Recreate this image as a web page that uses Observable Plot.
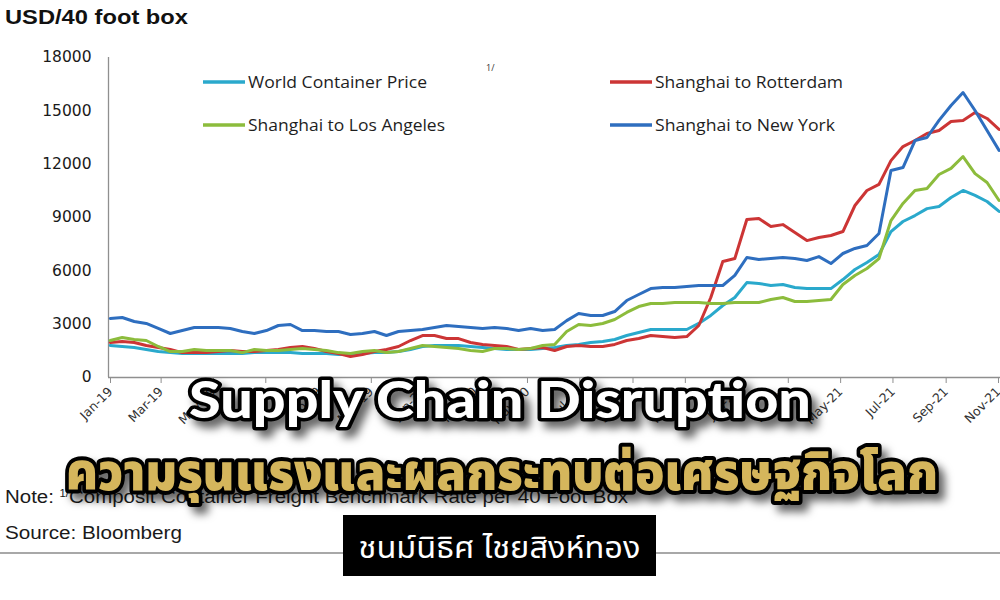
<!DOCTYPE html>
<html><head><meta charset="utf-8">
<script src="https://cdn.jsdelivr.net/npm/d3@7"></script>
<script src="https://cdn.jsdelivr.net/npm/@observablehq/plot@0.6"></script>
<style>
html,body{margin:0;padding:0;background:#fff;}
#wrap{position:relative;width:1000px;height:600px;overflow:hidden;background:#fff;}
#chart{position:absolute;left:0;top:0;}
#over{position:absolute;left:0;top:0;}
.thai{font-family:"Noto Sans Thai","Noto Sans Thai Looped","Loma","Garuda","Kinnari","Tlwg Typist","Noto Sans",sans-serif;}
</style></head><body>
<div id="wrap"><div id="chart"></div><svg id="over" width="1000" height="600" xmlns="http://www.w3.org/2000/svg"></svg></div>
<script>
// ---- data (biweekly observations from 2019-01-03), USD per 40 ft box ----
const seriesNames = ["World Container Price", "Shanghai to Rotterdam", "Shanghai to Los Angeles", "Shanghai to New York"];
const seriesColors = ["#2aa9cc", "#cc3535", "#8cbc3c", "#2e6ebf"];
const firstObs = "2019-01-03";
const stepDays = 14;
const world = [1800,1745,1690,1575,1460,1400,1350,1350,1350,1350,
 1350,1350,1400,1400,1400,1400,1350,1350,1350,1290,
 1290,1350,1400,1400,1460,1575,1745,1800,1800,1800,
 1745,1690,1630,1575,1575,1575,1630,1690,1800,1860,
 1970,2025,2140,2360,2530,2700,2700,2700,2700,3040,
 3490,4050,4500,5340,5290,5175,5230,5060,5000,5000,
 5000,5510,6075,6470,6920,8210,8775,9110,9500,9620,
 10125,10520,10240,9900,9340];
const rotterdam = [1970,2025,1970,1800,1690,1575,1400,1400,1400,1460,
 1520,1460,1460,1520,1575,1690,1745,1630,1460,1350,
 1180,1290,1460,1575,1745,2080,2360,2360,2190,2190,
 1970,1860,1800,1745,1575,1630,1690,1520,1745,1800,
 1745,1745,1860,2080,2190,2360,2300,2250,2300,2925,
 4500,6525,6690,8890,8940,8490,8600,8160,7700,7875,
 7990,8210,9675,10520,10860,12200,12990,13330,13725,13890,
 14400,14460,14900,14570,13950];
const losAngeles = [2080,2250,2140,2080,1745,1460,1460,1575,1520,1520,
 1520,1400,1575,1520,1520,1575,1630,1575,1520,1400,
 1350,1460,1520,1400,1460,1630,1800,1745,1690,1630,
 1520,1460,1630,1630,1575,1630,1800,1860,2590,2980,
 2925,3040,3260,3660,3990,4160,4160,4220,4220,4220,
 4160,4160,4220,4220,4220,4390,4500,4275,4275,4330,
 4390,5230,5740,6130,6690,8830,9790,10520,10630,11420,
 11760,12430,11470,10970,9960];
const newYork = [3320,3375,3150,3040,2760,2475,2640,2810,2810,2810,
 2760,2590,2475,2640,2925,2980,2640,2640,2590,2590,
 2420,2475,2590,2360,2590,2640,2700,2810,2925,2870,
 2810,2760,2810,2760,2640,2760,2640,2700,3200,3600,
 3490,3490,3710,4330,4670,5000,5060,5060,5120,5175,
 5175,5175,5740,6750,6640,6690,6750,6690,6580,6800,
 6410,6975,7260,7425,8100,11640,11810,13330,13500,14460,
 15300,16030,15020,13890,12770];
const yTicks = [0, 3000, 6000, 9000, 12000, 15000, 18000];
const xStart = "2019-01-01", xEnd = "2021-11-05T16:00:00Z";

const seriesValues = [world, rotterdam, losAngeles, newYork];
const dates = world.map((_, i) => d3.utcDay.offset(new Date(firstObs), stepDays * i));
const rows = [];
seriesNames.forEach((name, k) => seriesValues[k].forEach((v, i) => rows.push({date: dates[i], value: v, series: name})));
const xDomain = [new Date(xStart), new Date(xEnd)];
const xTicks = d3.utcMonth.every(2).range(xDomain[0], xDomain[1]);

const chart = Plot.plot({
  width: 1000, height: 440,
  marginTop: 57, marginBottom: 63, marginLeft: 108, marginRight: 0,
  style: {fontFamily: "'DejaVu Sans', sans-serif", background: "transparent", overflow: "visible"},
  x: {type: "utc", domain: xDomain},
  y: {domain: [0, 18000]},
  color: {domain: seriesNames, range: seriesColors},
  marks: [
    Plot.ruleY([0], {stroke: "#8f8f8f", strokeWidth: 1.3}),
    Plot.ruleX([xDomain[0]], {y1: 0, y2: 18000, stroke: "#8f8f8f", strokeWidth: 1.3}),
    Plot.axisY({ticks: yTicks, tickSize: 0, tickPadding: 17, tickFormat: d3.format("d"), fontSize: 15.5, fill: "#1a1a1a", label: null}),
    Plot.axisX({ticks: xTicks, tickSize: 5, stroke: "#8f8f8f", tickFormat: d3.utcFormat("%b-%y"), tickRotate: -45, fontSize: 12.5, fill: "#333", label: null, tickPadding: 6, dx: 2, dy: 1}),
    Plot.lineY(rows, {x: "date", y: "value", z: "series", stroke: "series", strokeWidth: 3})
  ]
});
document.getElementById("chart").appendChild(chart);

// ---- overlay texts ----
const NS = "http://www.w3.org/2000/svg";
const over = document.getElementById("over");
function el(tag, attrs, text, parent = over) {
  const e = document.createElementNS(NS, tag);
  for (const k in attrs) e.setAttribute(k, attrs[k]);
  if (text != null) e.textContent = text;
  parent.appendChild(e);
  return e;
}
const defs = el("defs", {});
const f = el("filter", {id: "sh", x: "-10%", y: "-30%", width: "130%", height: "180%"}, null, defs);
el("feDropShadow", {dx: 6, dy: 7, stdDeviation: 4, "flood-color": "#000", "flood-opacity": 0.6}, null, f);

el("text", {x: 5, y: 24, "font-family": "'Liberation Sans', Arial, sans-serif", "font-weight": "bold", "font-size": 21, fill: "#111", textLength: 183, lengthAdjust: "spacingAndGlyphs"}, "USD/40 foot box");

// legend
const legendPos = [[203, 82, 179], [610, 82, 188], [203, 125, 197], [610, 125, 180]];
seriesNames.forEach((name, k) => {
  const [lx, ly, tl] = legendPos[k];
  el("line", {x1: lx, x2: lx + 42, y1: ly, y2: ly, stroke: seriesColors[k], "stroke-width": 3.5});
  el("text", {x: lx + 45, y: ly + 6, "font-family": "'Open Sans', sans-serif", "font-size": 15.5, fill: "#1e1e1e", textLength: tl, lengthAdjust: "spacingAndGlyphs"}, name);
});
el("text", {x: 486, y: 71, "font-family": "'Open Sans', sans-serif", "font-size": 9, fill: "#333"}, "1/");

// note + source
const note = el("text", {x: 5, y: 503, "font-family": "'Liberation Sans', Arial, sans-serif", "font-size": 18, fill: "#1a1a1a", textLength: 623, lengthAdjust: "spacingAndGlyphs"});
el("tspan", {}, "Note: ", note);
el("tspan", {"font-size": 10, dy: -6}, "1/", note);
el("tspan", {dy: 6}, "Composit Container Freight Benchmark Rate per 40 Foot Box", note);
el("text", {x: 5, y: 539, "font-family": "'Liberation Sans', Arial, sans-serif", "font-size": 18, fill: "#1a1a1a", textLength: 177, lengthAdjust: "spacingAndGlyphs"}, "Source: Bloomberg");
el("line", {x1: 0, x2: 1000, y1: 553, y2: 553, stroke: "#a8a8a8", "stroke-width": 2});

// author box
el("rect", {x: 343, y: 515, width: 313, height: 61, fill: "#000"});
el("text", {x: 499.5, y: 558, "text-anchor": "middle", class: "thai", "font-size": 30, fill: "#fff", textLength: 282, lengthAdjust: "spacingAndGlyphs"}, "ชนม์นิธิศ ไชยสิงห์ทอง");

// big titles
el("text", {x: 500, y: 418, "text-anchor": "middle", "font-family": "Lato, Inter, sans-serif", "font-weight": 900, "font-size": 52, fill: "#fff", stroke: "#000", "stroke-width": 7, "stroke-linejoin": "round", "paint-order": "stroke", filter: "url(#sh)", textLength: 622, lengthAdjust: "spacingAndGlyphs"}, "Supply Chain Disruption");
el("text", {x: 502, y: 490, "text-anchor": "middle", class: "thai", "font-weight": 900, "font-size": 52, fill: "#d5b65c", stroke: "#000", "stroke-width": 8, "stroke-linejoin": "round", "paint-order": "stroke", filter: "url(#sh)", textLength: 872, lengthAdjust: "spacingAndGlyphs"}, "ความรุนแรงและผลกระทบต่อเศรษฐกิจโลก");
</script>
</body></html>
